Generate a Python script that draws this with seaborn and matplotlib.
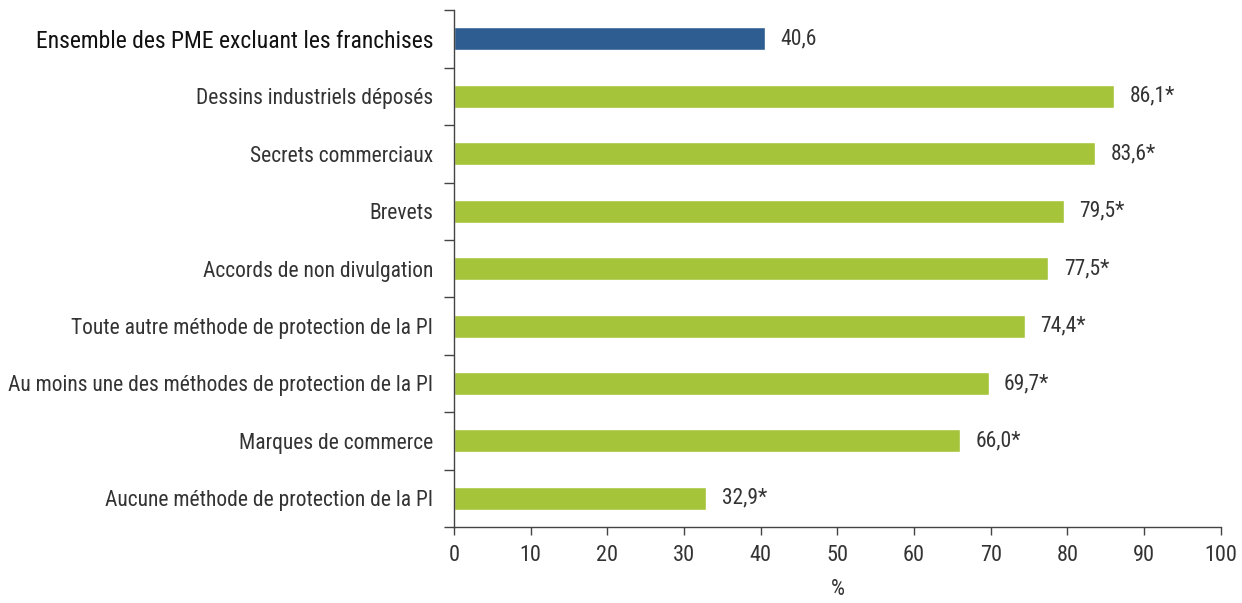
import numpy as np
import pandas as pd
import seaborn as sns
from matplotlib import pyplot as plt
from matplotlib import font_manager as fm

categories = [
    'Ensemble des PME excluant les franchises',
    'Dessins industriels déposés',
    'Secrets commerciaux',
    'Brevets',
    'Accords de non divulgation',
    'Toute autre méthode de protection de la PI',
    'Au moins une des méthodes de protection de la PI',
    'Marques de commerce',
    'Aucune méthode de protection de la PI',
]
values = [40.6, 86.1, 83.6, 79.5, 77.5, 74.4, 69.7, 66.0, 32.9]
value_labels = ['40,6', '86,1*', '83,6*', '79,5*', '77,5*', '74,4*', '69,7*', '66,0*', '32,9*']
groups = ['total', 'pi', 'pi', 'pi', 'pi', 'pi', 'pi', 'pi', 'pi']
xticks = [0, 10, 20, 30, 40, 50, 60, 70, 80, 90, 100]

sns.set_style('white')
installed = {f.name for f in fm.fontManager.ttflist}
family = [f for f in ['Roboto Condensed', 'Liberation Sans Narrow', 'Liberation Sans']
          if f in installed] + ['DejaVu Sans']
plt.rcParams['font.family'] = family
text_color = '#333333'

df = pd.DataFrame({'cat': categories, 'val': values, 'grp': groups})

fig = plt.figure(figsize=(12.42, 6.03), dpi=100)
ax = fig.add_axes([0.3655, 0.126, 0.6175, 0.857])
sns.barplot(data=df, x='val', y='cat', hue='grp',
            palette={'total': '#2e5e91', 'pi': '#a6c43a'},
            width=0.4, dodge=False, legend=False, saturation=1, ax=ax)

for i, (v, lab) in enumerate(zip(values, value_labels)):
    ax.text(v + 2.0, i, lab, va='center', ha='left', fontsize=15.5, color=text_color)

ax.set_xlim(0, 100)
ax.set_ylim(len(categories) - 0.5, -0.5)
ax.set_xticks(xticks)
ax.set_xticklabels([str(t) for t in xticks], fontsize=16, color=text_color)
ax.set_yticks(range(len(categories)))
ax.set_yticklabels(categories, fontsize=15.5, color=text_color)
ax.get_yticklabels()[0].set_color('#111111')
ax.get_yticklabels()[0].set_fontsize(17)
ax.set_yticks(np.arange(-0.5, len(categories), 1.0), minor=True)
ax.tick_params(axis='y', which='major', length=0, pad=15)
ax.tick_params(axis='y', which='minor', length=7, width=1, color='#444444', left=True)
ax.tick_params(axis='x', length=6, width=1, color='#444444', bottom=True, pad=7)
ax.set_xlabel('%', fontsize=16, color=text_color, labelpad=9)
ax.set_ylabel('')
for s in ['top', 'right']:
    ax.spines[s].set_visible(False)
for s in ['left', 'bottom']:
    ax.spines[s].set_color('#444444')
    ax.spines[s].set_linewidth(1)

fig.savefig('out.png', dpi=100)
plt.close()
